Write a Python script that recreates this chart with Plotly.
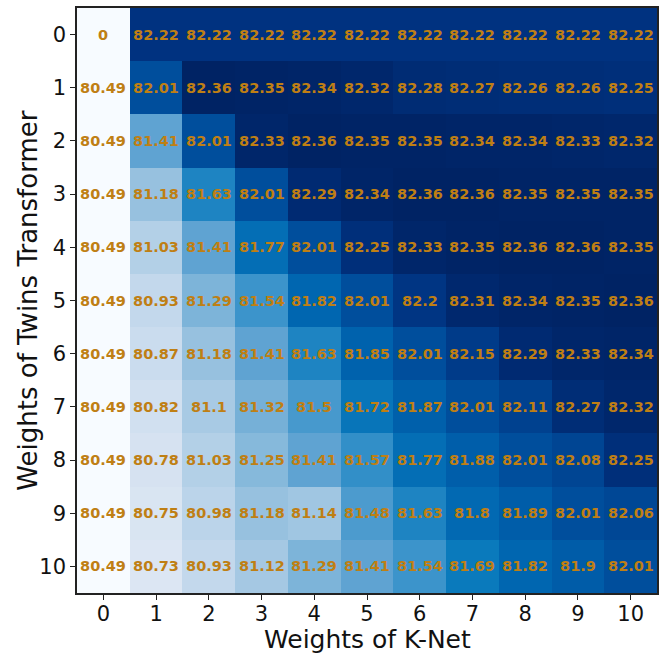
import plotly.graph_objects as go

x_labels = [str(i) for i in range(11)]
y_labels = [str(i) for i in range(11)]

row0 = [0, 82.22, 82.22, 82.22, 82.22, 82.22, 82.22, 82.22, 82.22, 82.22, 82.22]
row1 = [80.49, 82.01, 82.36, 82.35, 82.34, 82.32, 82.28, 82.27, 82.26, 82.26, 82.25]
row2 = [80.49, 81.41, 82.01, 82.33, 82.36, 82.35, 82.35, 82.34, 82.34, 82.33, 82.32]
row3 = [80.49, 81.18, 81.63, 82.01, 82.29, 82.34, 82.36, 82.36, 82.35, 82.35, 82.35]
row4 = [80.49, 81.03, 81.41, 81.77, 82.01, 82.25, 82.33, 82.35, 82.36, 82.36, 82.35]
row5 = [80.49, 80.93, 81.29, 81.54, 81.82, 82.01, 82.2, 82.31, 82.34, 82.35, 82.36]
row6 = [80.49, 80.87, 81.18, 81.41, 81.63, 81.85, 82.01, 82.15, 82.29, 82.33, 82.34]
row7 = [80.49, 80.82, 81.1, 81.32, 81.5, 81.72, 81.87, 82.01, 82.11, 82.27, 82.32]
row8 = [80.49, 80.78, 81.03, 81.25, 81.41, 81.57, 81.77, 81.88, 82.01, 82.08, 82.25]
row9 = [80.49, 80.75, 80.98, 81.18, 81.14, 81.48, 81.63, 81.8, 81.89, 82.01, 82.06]
row10 = [80.49, 80.73, 80.93, 81.12, 81.29, 81.41, 81.54, 81.69, 81.82, 81.9, 82.01]

z = [row0, row1, row2, row3, row4, row5, row6, row7, row8, row9, row10]
text = [[f"{v:g}" for v in row] for row in z]

x_title = "Weights of K-Net"
y_title = "Weights of Twins Transformer"

# blue colour ramp (position in 0..1 -> colour)
colorscale = [
    [0.000, "rgb(247,251,255)"],
    [0.128, "rgb(220,230,243)"],
    [0.235, "rgb(195,216,236)"],
    [0.337, "rgb(165,200,227)"],
    [0.428, "rgb(125,180,217)"],
    [0.492, "rgb(95,163,210)"],
    [0.561, "rgb(60,148,203)"],
    [0.642, "rgb(10,122,188)"],
    [0.711, "rgb(0,102,176)"],
    [0.813, "rgb(0,78,156)"],
    [0.925, "rgb(0,50,128)"],
    [1.000, "rgb(0,35,100)"],
]

fig = go.Figure(go.Heatmap(
    z=z, x=x_labels, y=y_labels, text=text, texttemplate="<b>%{text}</b>",
    textfont=dict(family="DejaVu Sans", size=14.5, color="#bf7f14"),
    colorscale=colorscale, zmin=80.49, zmax=82.36, showscale=False,
    xgap=0, ygap=0,
))

axis_common = dict(
    showline=True, linecolor="#222", linewidth=1.5, mirror=True,
    ticks="outside", ticklen=5, tickcolor="#222",
    tickfont=dict(family="DejaVu Sans", size=21, color="#111"),
    showgrid=False, zeroline=False,
)
fig.update_xaxes(ticklabelstandoff=-4, **axis_common)
fig.update_yaxes(autorange="reversed", **axis_common)

plot_h = 655 - 8 - 62
fig.add_annotation(
    text=x_title, xref="paper", yref="paper", x=0.5, y=-46 / plot_h,
    xanchor="center", yanchor="middle", showarrow=False,
    font=dict(family="DejaVu Sans", size=25, color="#111"),
)
fig.add_annotation(
    text=y_title, xref="paper", yref="paper", x=-50 / (659 - 77), y=0.5,
    xanchor="center", yanchor="middle", showarrow=False, textangle=-90,
    font=dict(family="DejaVu Sans", size=26, color="#111"),
)

fig.update_layout(
    width=659, height=655,
    margin=dict(l=77, r=0, t=8, b=62),
    paper_bgcolor="white", plot_bgcolor="white",
)
fig.write_html("out.html")
